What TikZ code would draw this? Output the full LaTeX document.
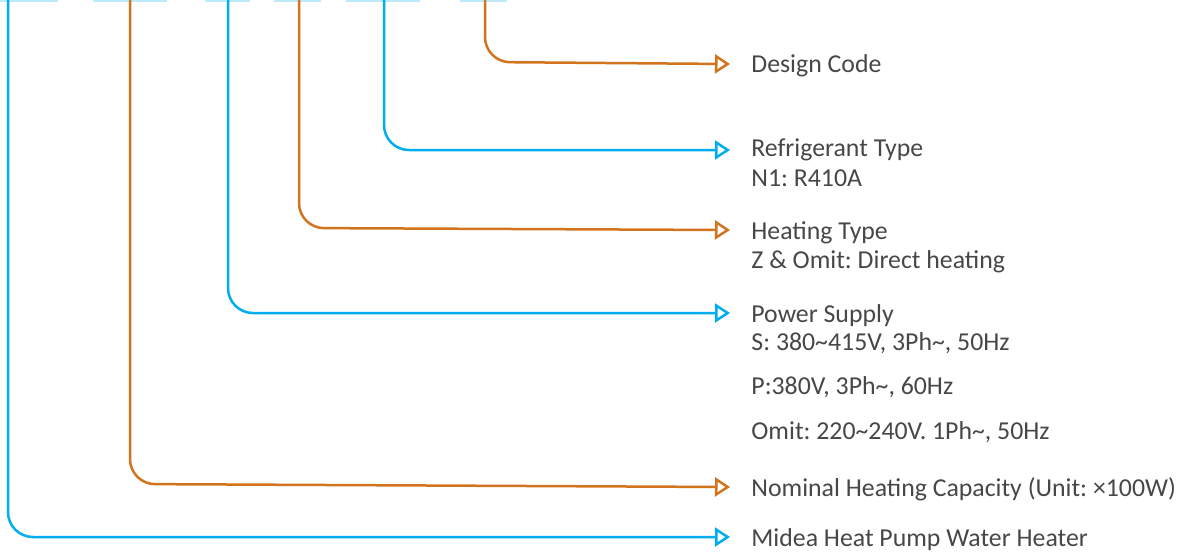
\documentclass[tikz,border=0pt]{standalone}
\usepackage{fontspec}
\setmainfont{Carlito}
\frenchspacing
\usetikzlibrary{arrows.meta,calc}
\definecolor{codeblue}{HTML}{00AEEF}
\definecolor{codeorange}{HTML}{D2741E}
\definecolor{boxblue}{HTML}{BDE9FA}
\definecolor{txtgray}{HTML}{474747}
\tikzset{
  blueline/.style = {draw = codeblue, line width = 1.25pt, rounded corners = 12.5pt, -{Triangle[open, length = 7.5pt, width = 9.5pt]}},
  orangeline/.style = {draw = codeorange, line width = 1.25pt, rounded corners = 12.5pt, -{Triangle[open, length = 7.5pt, width = 9.5pt]}},
  lbl/.style = {anchor = base west, inner sep = 0pt, text = txtgray, font = \fontsize{12.9}{14}\selectfont}
}
\begin{document}
\begin{tikzpicture}[x = 0.5pt, y = -0.5pt]
            \useasboundingbox (0,0) rectangle (1192,554);
            % code boxes (cut off at the top)
            \foreach \xa/\xb in {0/58, 93/167, 205/250, 274/321, 346/420, 460/507}
                \path[draw = boxblue, line width = 1pt](\xa,1)to(\xb,1);
            % labels
            \node[lbl](design)at(751,72){Design Code};
            \node[lbl](refrig)at(751,156){Refrigerant Type};
            \node[lbl](refrigA)at(751,186){N1: R410A};
            \node[lbl](heat)at(751,239){Heating Type};
            \node[lbl](heatA)at(751,268){Z \& Omit: Direct heating};
            \node[lbl](power)at(751,322){Power Supply};
            \node[lbl](powerS)at(751,350){S: 380\textasciitilde415V, 3Ph\textasciitilde, 50Hz};
            \node[lbl](powerP)at(751,394){P:380V, 3Ph\textasciitilde, 60Hz};
            \node[lbl](powerO)at(751,439){Omit: 220\textasciitilde240V. 1Ph\textasciitilde, 50Hz};
            \node[lbl](capacity)at(751,496){Nominal Heating Capacity (Unit: ×100W)};
            \node[lbl](midea)at(751,546){Midea Heat Pump Water Heater};
            % connectors
            \coordinate(s1)at(8,0);   \coordinate(t1)at(730,537);
            \coordinate(s2)at(130,0); \coordinate(t2)at(730,487);
            \coordinate(s3)at(228,0); \coordinate(t3)at(730,313);
            \coordinate(s4)at(299,0); \coordinate(t4)at(730,230);
            \coordinate(s5)at(384,0); \coordinate(t5)at(730,150);
            \coordinate(s6)at(485,0); \coordinate(t6)at(730,64);
            \path[blueline](s1)--(s1|-t1)--(t1);
            \path[orangeline](s2)--($(s2)+(0,484)$)--(t2);
            \path[blueline](s3)--(s3|-t3)--(t3);
            \path[orangeline](s4)--($(s4)+(0,228)$)--(t4);
            \path[blueline](s5)--(s5|-t5)--(t5);
            \path[orangeline](s6)--($(s6)+(0,62)$)--(t6);
\end{tikzpicture}
\end{document}
